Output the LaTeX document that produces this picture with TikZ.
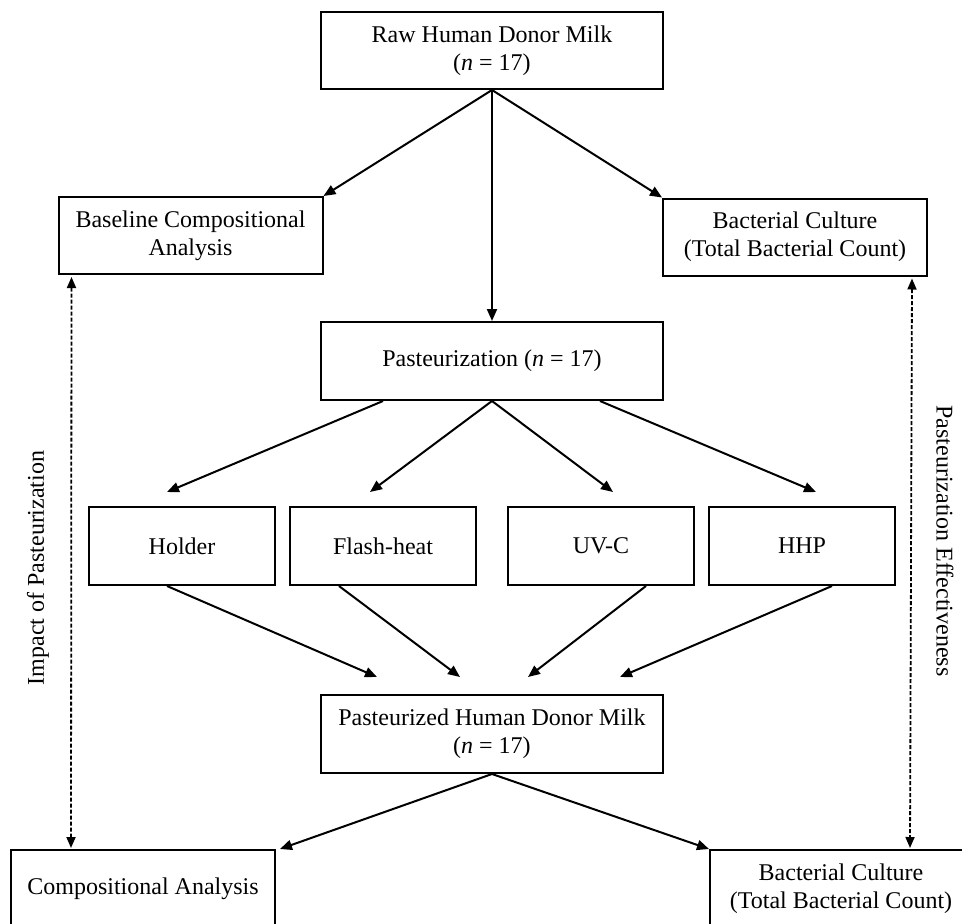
\documentclass[tikz,border=0pt]{standalone}
\usepackage{fontspec}
\setmainfont{Liberation Serif}
\usetikzlibrary{arrows.meta,calc}
\begin{document}
\begin{tikzpicture}[x=1pt,y=-1pt,
  box/.style={draw,line width=2pt,inner sep=0pt,align=center,
    font=\fontsize{24}{28}\selectfont},
  wide/.style={box,minimum width=342pt,minimum height=77pt},
  side/.style={box,minimum width=264pt,minimum height=77pt},
  meth/.style={box,minimum width=186pt,minimum height=78pt},
  arr/.style={line width=2pt,-{Triangle[length=12pt,width=10pt]}},
  darr/.style={line width=1.8pt,dash pattern=on 4pt off 2pt,
    {Triangle[length=11pt,width=9pt]}-{Triangle[length=11pt,width=9pt]}},
  lbl/.style={font=\fontsize{24}{28}\selectfont,inner sep=0pt}]
\useasboundingbox (0,0) rectangle (962,924);
\clip (0,0) rectangle (962,924);
\node[wide] (raw) at (492,50.5) {Raw Human Donor Milk\\(\textit{n} = 17)};
\node[side] (base) at (190.5,235.5) {Baseline Compositional\\Analysis};
\node[side] (bact) at (795,237) {Bacterial Culture\\(Total Bacterial Count)};
\node[wide,minimum height=78pt] (past) at (492,361) {Pasteurization (\textit{n} = 17)};
\node[meth] (hold) at (182,546) {Holder};
\node[meth] (flash) at (383,546) {Flash-heat};
\node[meth] (uvc) at (601,546) {UV-C};
\node[meth] (hhp) at (802,546) {HHP};
\node[wide,minimum height=78pt] (pdm) at (492,734) {Pasteurized Human Donor Milk\\(\textit{n} = 17)};
\node[side,minimum height=78pt] (comp) at (143,889) {Compositional Analysis};
\node[side,minimum height=78pt,minimum width=262pt] (bact2) at (841,889) {Bacterial Culture\\(Total Bacterial Count)};
\node[lbl,rotate=90] (impact) at (38,568) {Impact of Pasteurization};
\node[lbl,rotate=-90] (effect) at (945,541) {Pasteurization Effectiveness};
% arrows from raw
\draw[arr] (raw.south) -- (base.north east);
\draw[arr] (raw.south) -- (bact.north west);
\draw[arr] (raw.south) -- (past.north);
% arrows from pasteurization
\draw[arr] ($(past.south)+(-109,0)$) -- ($(hold.north)+(-15,-14)$);
\draw[arr] (past.south) -- ($(flash.north)+(-13,-14)$);
\draw[arr] (past.south) -- ($(uvc.north)+(12,-14)$);
\draw[arr] ($(past.south)+(108,0)$) -- ($(hhp.north)+(14,-14)$);
% arrows to pasteurized milk
\draw[arr] ($(hold.south)+(-15,0)$) -- ($(pdm.north)+(-115,-17)$);
\draw[arr] ($(flash.south)+(-44,0)$) -- ($(pdm.north)+(-32,-17)$);
\draw[arr] ($(uvc.south)+(45,0)$) -- ($(pdm.north)+(36,-17)$);
\draw[arr] ($(hhp.south)+(30,0)$) -- ($(pdm.north)+(128,-17)$);
% arrows to final analyses
\draw[arr] (pdm.south) -- ($(comp.north east)+(4,0)$);
\draw[arr] (pdm.south) -- (bact2.north west);
% dashed comparisons
\draw[darr] ($(base.south west)+(14,2)$) -- ($(comp.north west)+(61,-1)$);
\draw[darr] ($(bact.south east)+(-16,2)$) -- ($(bact2.north west)+(201,-1)$);
\end{tikzpicture}
\end{document}
